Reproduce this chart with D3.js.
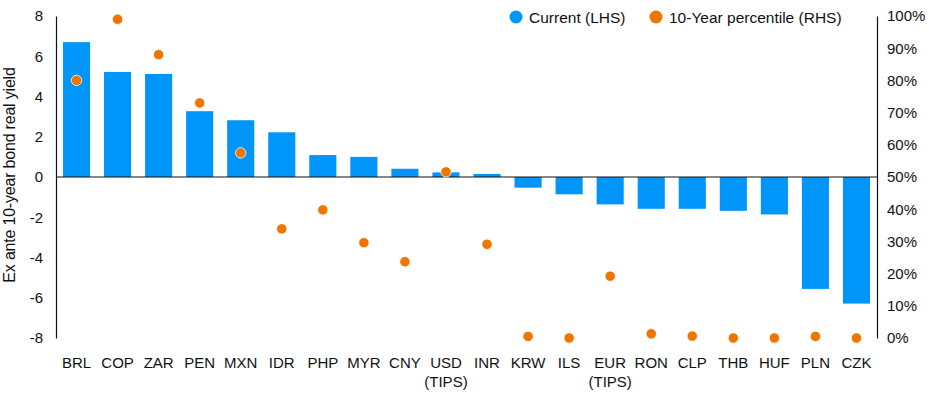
<!DOCTYPE html>
<html>
<head>
<meta charset="utf-8">
<script src="https://cdn.jsdelivr.net/npm/d3@7"></script>
<style>
  body { margin: 0; background: #fff; }
  text { font-family: "Liberation Sans", Arial, sans-serif; fill: #111; }
</style>
</head>
<body>
<div id="wrapper"></div>
<script>
const categories = ["BRL", "COP", "ZAR", "PEN", "MXN", "IDR", "PHP", "MYR", "CNY", "USD\n(TIPS)",
  "INR", "KRW", "ILS", "EUR\n(TIPS)", "RON", "CLP", "THB", "HUF", "PLN", "CZK"]
const currentYield = [6.70, 5.22, 5.12, 3.27, 2.82, 2.22, 1.09, 1.00, 0.41, 0.23,
  0.15, -0.53, -0.86, -1.36, -1.58, -1.58, -1.68, -1.86, -5.56, -6.29]
const percentile = [0.80, 0.99, 0.88, 0.73, 0.575, 0.339, 0.398, 0.296, 0.237, 0.516,
  0.291, 0.005, 0.0, 0.192, 0.013, 0.006, 0.0, 0.0, 0.005, 0.0]
const leftTicks = [-8, -6, -4, -2, 0, 2, 4, 6, 8]
const rightTicks = [0, 0.1, 0.2, 0.3, 0.4, 0.5, 0.6, 0.7, 0.8, 0.9, 1]

const dataset = categories.map((c, i) => ({ cat: c, cur: currentYield[i], pct: percentile[i] }))

function drawChart() {
  const dms = {
    width: 930,
    height: 394,
    margin: { top: 16, right: 53, bottom: 56, left: 56 },
  }
  dms.boundedWidth = dms.width - dms.margin.left - dms.margin.right
  dms.boundedHeight = dms.height - dms.margin.top - dms.margin.bottom

  const blue = "#0095f8"
  const orange = "#ec7600"

  const wrapper = d3.select("#wrapper")
    .append("svg")
    .attr("width", dms.width)
    .attr("height", dms.height)

  const bounds = wrapper.append("g")
    .attr("transform", `translate(${dms.margin.left},${dms.margin.top})`)

  const xScale = d3.scaleBand()
    .domain(categories)
    .range([0, dms.boundedWidth])
    .paddingInner(0.34)
    .paddingOuter(0.17)

  const yScale = d3.scaleLinear()
    .domain([-8, 8])
    .range([dms.boundedHeight, 0])

  const y2Scale = d3.scaleLinear()
    .domain([0, 1])
    .range([dms.boundedHeight, 0])

  // bars
  bounds.selectAll("rect.bar")
    .data(dataset)
    .join("rect")
    .attr("class", "bar")
    .attr("x", d => xScale(d.cat))
    .attr("width", xScale.bandwidth())
    .attr("y", d => yScale(Math.max(0, d.cur)))
    .attr("height", d => Math.abs(yScale(d.cur) - yScale(0)))
    .attr("fill", blue)

  // zero line
  bounds.append("line")
    .attr("x1", 0)
    .attr("x2", dms.boundedWidth)
    .attr("y1", yScale(0))
    .attr("y2", yScale(0))
    .attr("stroke", "#111")
    .attr("stroke-width", 1.2)

  // dots
  bounds.selectAll("circle.dot")
    .data(dataset)
    .join("circle")
    .attr("class", "dot")
    .attr("cx", d => xScale(d.cat) + xScale.bandwidth() / 2)
    .attr("cy", d => y2Scale(d.pct))
    .attr("r", 5.2)
    .attr("fill", orange)
    .attr("stroke", "#fff")
    .attr("stroke-width", 0.8)

  // left axis
  const yAxis = bounds.append("g")
    .call(d3.axisLeft(yScale).tickValues(leftTicks).tickSize(0).tickPadding(13).tickFormat(d => d))
  yAxis.select(".domain").attr("stroke", "#111").attr("stroke-width", 1.2)
  yAxis.selectAll(".tick text").style("font-size", "15px").attr("fill", "#111")

  // right axis
  const y2Axis = bounds.append("g")
    .attr("transform", `translate(${dms.boundedWidth},0)`)
    .call(d3.axisRight(y2Scale).tickValues(rightTicks).tickSize(0).tickPadding(10).tickFormat(d3.format(".0%")))
  y2Axis.select(".domain").attr("stroke", "#111").attr("stroke-width", 1.2)
  y2Axis.selectAll(".tick text").style("font-size", "15px").attr("fill", "#111")

  // x labels
  const xLabels = bounds.append("g")
    .selectAll("text")
    .data(categories)
    .join("text")
    .attr("x", d => xScale(d) + xScale.bandwidth() / 2)
    .attr("y", dms.boundedHeight + 30)
    .attr("text-anchor", "middle")
    .style("font-size", "15px")
  xLabels.each(function (d) {
    const lines = d.split("\n")
    d3.select(this).selectAll("tspan")
      .data(lines)
      .join("tspan")
      .attr("x", xScale(d) + xScale.bandwidth() / 2)
      .attr("dy", (l, i) => i === 0 ? 0 : 19)
      .text(l => l)
  })

  // y axis title
  wrapper.append("text")
    .attr("transform", `translate(15,175) rotate(-90)`)
    .attr("text-anchor", "middle")
    .style("font-size", "16px")
    .style("letter-spacing", "-0.2px")
    .text("Ex ante 10-year bond real yield")

  // legend
  const legend = wrapper.append("g")
  const items = [
    { label: "Current (LHS)", color: blue, x: 516 },
    { label: "10-Year percentile (RHS)", color: orange, x: 656 },
  ]
  items.forEach(it => {
    legend.append("circle")
      .attr("cx", it.x)
      .attr("cy", 17)
      .attr("r", 6.5)
      .attr("fill", it.color)
    legend.append("text")
      .attr("x", it.x + 13)
      .attr("y", 22.5)
      .style("font-size", "15.5px")
      .text(it.label)
  })
}

drawChart()
</script>
</body>
</html>
